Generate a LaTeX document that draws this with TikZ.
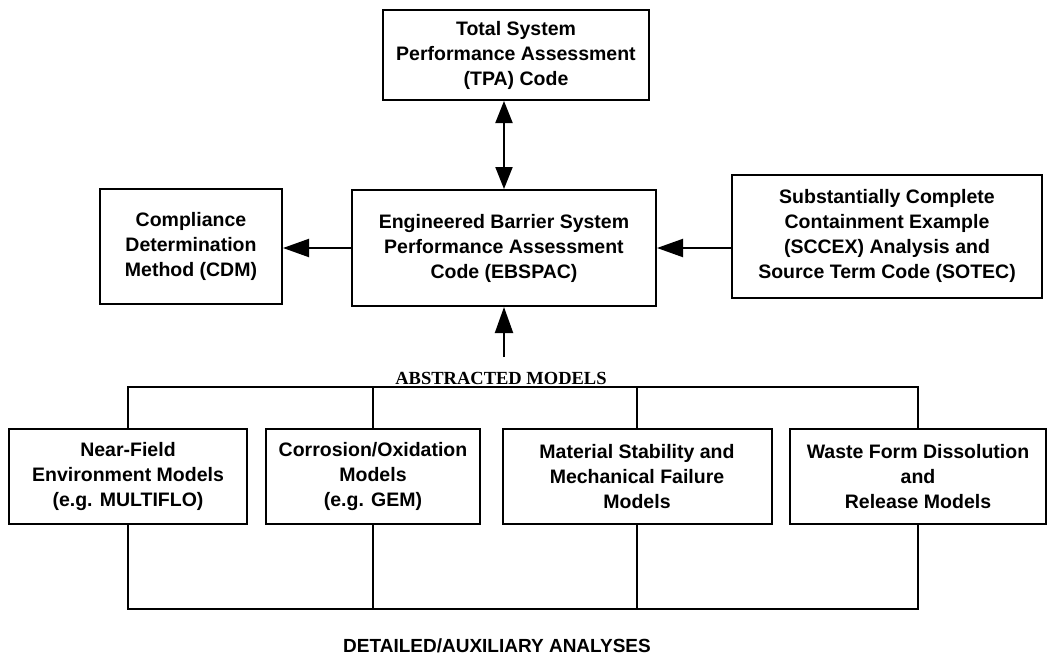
\documentclass[tikz,border=0pt]{standalone}
\usepackage{fontspec}
\setmainfont{Liberation Sans}
\newfontfamily\capsfont{Liberation Serif}
\usetikzlibrary{arrows.meta,positioning}
\tikzstyle{box}=[draw,line width=2pt,align=center,inner sep=0pt,font=\fontsize{19.5}{25}\selectfont\bfseries]
\tikzstyle{wire}=[draw,line width=1.6pt]
\tikzstyle{flow}=[draw,line width=2pt,-{Triangle[length=26pt,width=18pt]}]
\tikzstyle{both}=[draw,line width=2pt,{Triangle[length=22pt,width=17pt]}-{Triangle[length=22pt,width=17pt]}]

\begin{document}
\begin{tikzpicture}[x=1pt,y=-1pt]
      \useasboundingbox (0,0) rectangle (1050,656);
      \node[box,minimum width=266pt,minimum height=90pt] (tpa) at (516,55)
        {Total System\\Performance Assessment\\(TPA) Code};
      \node[box,minimum width=304pt,minimum height=116pt] (ebspac) at (504,248)
        {Engineered Barrier System\\Performance Assessment\\Code (EBSPAC)};
      \node[box,minimum width=182pt,minimum height=115pt] (cdm) at (191,246)
        {Compliance\\Determination\\Method (CDM)};
      \node[box,minimum width=310pt,minimum height=123pt] (sccex) at (887,236)
        {Substantially Complete\\Containment Example\\(SCCEX) Analysis and\\Source Term Code (SOTEC)};
      \foreach \x/\w/\id/\txt in {128/238/nf/{Near-Field\\Environment Models\\(e.g. MULTIFLO)},
                                  373/214/corr/{Corrosion/Oxidation\\Models\\(e.g. GEM)},
                                  637/269/mat/{Material Stability and\\Mechanical Failure\\Models},
                                  918/256/waste/{Waste Form Dissolution\\and\\Release Models}}{
        \node[box,minimum width=\w pt,minimum height=95pt] (\id) at (\x,476.5) {\txt};
      }
      \node[font=\capsfont\bfseries\fontsize{18.5}{22}\selectfont] (am) at (501,378) {ABSTRACTED MODELS};
      \node[font=\bfseries\fontsize{19}{22}\selectfont] (daa) at (497,646) {DETAILED/AUXILIARY ANALYSES};
      \coordinate (bus) at (0,387);
      \coordinate (base) at (0,609);
      \coordinate (feed) at (504,357);

      \path[both] (tpa.south -| ebspac.north) -- (ebspac.north);
      \path[flow] (ebspac.west) -- (ebspac.west -| cdm.east);
      \path[flow] (sccex.west |- ebspac.east) -- (ebspac.east);
      \path[flow] (feed) -- (ebspac.south);
      \path[wire] (nf.north) -- (nf.north |- bus) -- (waste.north |- bus) -- (waste.north);
      \path[wire] (nf.south) -- (nf.south |- base) -- (waste.south |- base) -- (waste.south);
      \foreach \id in {corr,mat}{
        \path[wire] (\id.north) -- (\id.north |- bus);
        \path[wire] (\id.south) -- (\id.south |- base);
      }

    \end{tikzpicture}
\end{document}
